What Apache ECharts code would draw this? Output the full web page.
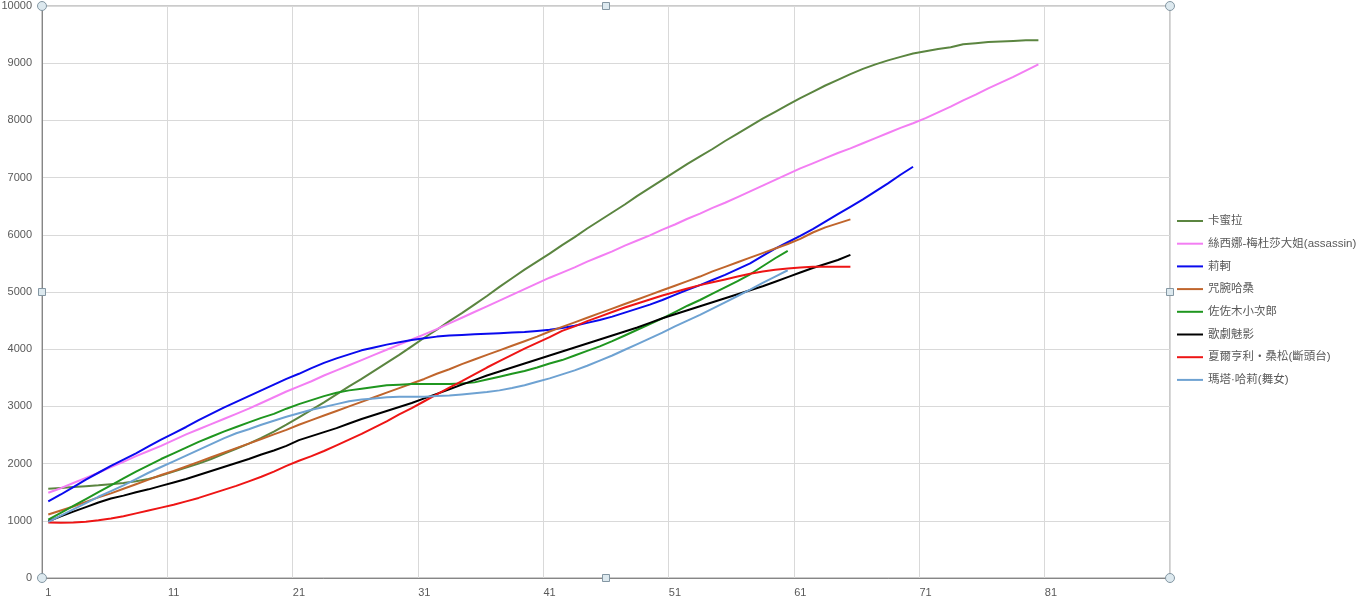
<!DOCTYPE html>
<html>
<head>
<meta charset="utf-8">
<script src="https://cdn.jsdelivr.net/npm/echarts@6/dist/echarts.min.js"></script>
<style>
html,body{margin:0;padding:0;background:#fff;}
#chart{width:1361px;height:603px;}
</style>
</head>
<body>
<div id="chart"></div>
<script>
// ---- data ----
const categories = Array.from({length: 90}, (_, i) => String(i + 1));

const seriesNames = ['卡蜜拉', '絲西娜-梅杜莎大姐(assassin)', '莉軻', '咒腕哈桑', '佐佐木小次郎', '歌劇魅影', '夏爾亨利・桑松(斷頭台)', '瑪塔·哈莉(舞女)'];

const camilla = [1560,1575,1590,1605,1620,1640,1660,1690,1730,1790,1860,1930,2000,2080,2170,2260,2350,2450,2560,2680,2810,2940,3070,3210,3350,3480,3620,3760,3900,4050,4200,4340,4490,4630,4780,4930,5090,5240,5390,5530,5670,5820,5960,6110,6250,6390,6530,6680,6820,6960,7100,7240,7370,7500,7640,7770,7900,8030,8150,8270,8390,8500,8610,8710,8810,8900,8980,9050,9110,9170,9210,9250,9280,9330,9350,9370,9380,9390,9400,9400];

const medusa = [1490,1570,1660,1750,1840,1940,2030,2130,2220,2310,2410,2510,2600,2690,2780,2870,2960,3060,3160,3260,3350,3440,3540,3630,3720,3810,3900,3990,4080,4170,4260,4350,4450,4550,4650,4750,4850,4950,5050,5150,5250,5340,5430,5530,5620,5710,5810,5900,5990,6090,6180,6280,6370,6470,6560,6660,6760,6860,6960,7060,7160,7250,7340,7430,7510,7600,7690,7780,7870,7950,8040,8140,8240,8350,8450,8560,8660,8760,8870,8980];

const rika = [1340,1460,1590,1720,1840,1960,2070,2180,2300,2420,2530,2640,2760,2870,2980,3080,3180,3280,3380,3480,3570,3670,3760,3840,3910,3980,4030,4080,4120,4160,4190,4220,4240,4250,4260,4270,4280,4290,4300,4320,4340,4370,4410,4460,4510,4570,4640,4710,4780,4860,4950,5040,5120,5210,5300,5400,5500,5630,5760,5870,5980,6100,6230,6360,6490,6620,6760,6900,7050,7190];

const hassan = [1110,1180,1250,1330,1410,1480,1560,1640,1720,1800,1870,1950,2030,2110,2190,2270,2350,2430,2510,2590,2680,2760,2840,2920,3000,3080,3160,3240,3320,3400,3480,3570,3650,3740,3820,3900,3980,4060,4140,4220,4310,4390,4470,4550,4630,4710,4790,4870,4950,5030,5110,5190,5270,5360,5440,5520,5600,5680,5760,5840,5930,6040,6130,6200,6270];

const kojiro = [1020,1140,1260,1380,1500,1620,1740,1860,1970,2080,2180,2280,2380,2470,2560,2640,2720,2800,2870,2960,3040,3110,3180,3240,3280,3310,3340,3370,3380,3390,3390,3390,3390,3400,3420,3470,3520,3570,3620,3680,3750,3810,3890,3970,4050,4140,4240,4340,4440,4540,4650,4760,4860,4970,5080,5190,5310,5450,5590,5720];

const phantom = [990,1080,1160,1240,1320,1390,1440,1500,1550,1610,1670,1730,1800,1870,1940,2010,2080,2160,2230,2310,2410,2480,2550,2620,2700,2780,2850,2920,2990,3060,3140,3220,3300,3380,3460,3540,3610,3680,3750,3820,3890,3960,4030,4100,4170,4240,4310,4380,4460,4540,4610,4680,4750,4820,4890,4960,5030,5100,5180,5260,5340,5420,5490,5560,5650];

const sanson = [970,965,970,985,1010,1040,1080,1130,1180,1230,1280,1340,1400,1470,1540,1610,1690,1770,1860,1960,2050,2130,2220,2320,2420,2520,2630,2740,2860,2970,3090,3210,3330,3440,3560,3680,3790,3900,4010,4110,4210,4320,4400,4490,4570,4650,4730,4800,4870,4940,5000,5060,5120,5170,5220,5270,5320,5360,5390,5410,5430,5440,5440,5440,5440];

const mataHari = [980,1090,1200,1310,1420,1520,1620,1730,1840,1940,2040,2140,2240,2340,2440,2530,2600,2680,2750,2820,2880,2940,2990,3040,3090,3120,3140,3160,3170,3170,3170,3180,3190,3210,3230,3250,3280,3320,3370,3430,3490,3560,3630,3710,3800,3890,3990,4090,4190,4290,4400,4500,4600,4710,4820,4930,5040,5160,5270,5380];

const yTicks = {min: 0, max: 10000, interval: 1000};

const colors = ['#5b8540', '#f37ef3', '#0a0aee', '#c0652c', '#1f961f', '#000000', '#ee1515', '#6ea2d2'];
const allData = [camilla, medusa, rika, hassan, kojiro, phantom, sanson, mataHari];

// ---- layout ----
const W = 1361, H = 603;
const G = {left: 42, top: 6, right: 191, bottom: 25};
const gx0 = G.left, gx1 = W - G.right, gy0 = G.top, gy1 = H - G.bottom;

const chart = echarts.init(document.getElementById('chart'), null, {renderer: 'canvas'});

function handle(x, y, round) {
  if (round) {
    return {type: 'circle', shape: {cx: x, cy: y, r: 4.5}, style: {fill: '#dde9ef', stroke: '#8497a3', lineWidth: 1}, z: 100};
  }
  return {type: 'rect', shape: {x: x - 3.5, y: y - 3.5, width: 7, height: 7}, style: {fill: '#dde9ef', stroke: '#8497a3', lineWidth: 1}, z: 100};
}
const gxm = (gx0 + gx1) / 2, gym = (gy0 + gy1) / 2;

const option = {
  animation: false,
  backgroundColor: '#ffffff',
  textStyle: {fontFamily: '"Liberation Sans", "Noto Sans CJK TC", sans-serif'},
  grid: {left: G.left, top: G.top, right: G.right, bottom: G.bottom, show: true, borderColor: '#969696', borderWidth: 1, containLabel: false, outerBoundsMode: 'none'},
  legend: {
    orient: 'vertical',
    left: 1177,
    top: 214,
    padding: 0,
    icon: 'rect',
    itemWidth: 26,
    itemHeight: 2,
    itemGap: 8.7,
    data: seriesNames,
    textStyle: {fontSize: 11.5, color: '#595959', lineHeight: 14, fontFamily: '"Liberation Sans", "Noto Sans CJK TC", sans-serif'}
  },
  xAxis: {
    type: 'category',
    data: categories,
    boundaryGap: true,
    axisLine: {lineStyle: {color: '#868686', width: 1}},
    axisTick: {show: false},
    axisLabel: {interval: 9, color: '#595959', fontSize: 11, margin: 9},
    splitLine: {show: true, interval: 9, lineStyle: {color: '#d9d9d9', width: 1}}
  },
  yAxis: {
    type: 'value',
    min: yTicks.min, max: yTicks.max, interval: yTicks.interval,
    axisLine: {show: true, lineStyle: {color: '#868686', width: 1}},
    axisTick: {show: false},
    axisLabel: {color: '#595959', fontSize: 11, margin: 10, formatter: (v) => String(v)},
    splitLine: {show: true, lineStyle: {color: '#d9d9d9', width: 1}}
  },
  series: seriesNames.map((name, i) => ({
    name: name,
    type: 'line',
    data: allData[i],
    showSymbol: false,
    symbol: 'none',
    smooth: false,
    color: colors[i],
    lineStyle: {width: 2, color: colors[i]},
    z: 10 + i
  })),
  graphic: [
    handle(gx0, gy0, true), handle(gx1, gy0, true), handle(gx0, gy1, true), handle(gx1, gy1, true),
    handle(gxm, gy0, false), handle(gxm, gy1, false), handle(gx0, gym, false), handle(gx1, gym, false)
  ]
};
chart.setOption(option);
</script>
</body>
</html>
